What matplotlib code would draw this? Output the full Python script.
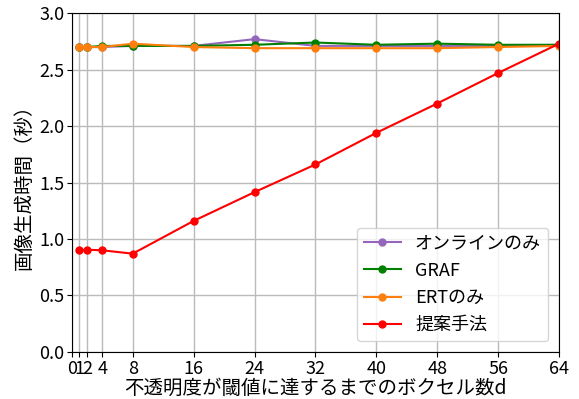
import matplotlib
matplotlib.use("Agg")
import matplotlib.pyplot as plt

plt.rcParams['font.family'] = ['Noto Sans CJK JP', 'DejaVu Sans']

# Voxel count threshold d and rendering time (seconds)
d_values = [1, 2, 4, 8, 16, 24, 32, 40, 48, 56, 64]
online_only = [2.70, 2.70, 2.70, 2.71, 2.71, 2.77, 2.71, 2.71, 2.71, 2.71, 2.72]
graf = [2.70, 2.70, 2.71, 2.71, 2.71, 2.72, 2.74, 2.72, 2.73, 2.72, 2.72]
ert_only = [2.70, 2.70, 2.70, 2.73, 2.70, 2.69, 2.69, 2.69, 2.69, 2.70, 2.71]
proposed = [0.90, 0.905, 0.90, 0.87, 1.16, 1.415, 1.66, 1.94, 2.20, 2.47, 2.73]

x_ticks = [0, 1, 2, 4, 8, 16, 24, 32, 40, 48, 56, 64]
y_ticks = [0.0, 0.5, 1.0, 1.5, 2.0, 2.5, 3.0]

fig = plt.figure(figsize=(5.79, 3.99), dpi=100)
ax = fig.add_axes([0.124, 0.118, 0.8415, 0.849])

ax.plot(d_values, online_only, marker='o', markersize=5, color='tab:purple', label='オンラインのみ')
ax.plot(d_values, graf, marker='o', markersize=5, color='green', label='GRAF')
ax.plot(d_values, ert_only, marker='o', markersize=5, color='tab:orange', label='ERTのみ')
ax.plot(d_values, proposed, marker='o', markersize=5, color='red', label='提案手法')

ax.set_xlim(0, 64)
ax.set_ylim(0, 3.0)
ax.set_xticks(x_ticks)
ax.set_xticklabels([str(t) for t in x_ticks])
ax.set_yticks(y_ticks)
ax.set_yticklabels([f"{t:.1f}" for t in y_ticks])
ax.tick_params(labelsize=13, pad=2)
ax.grid(True, color='#bbbbbb', linewidth=1)
ax.set_axisbelow(True)

ax.set_xlabel('不透明度が閾値に達するまでのボクセル数d', fontsize=14, labelpad=0)
ax.set_ylabel('画像生成時間（秒）', fontsize=14, labelpad=3)

ax.legend(loc='lower right', fontsize=13, borderaxespad=0.6)

fig.savefig('out.png', dpi=100)
